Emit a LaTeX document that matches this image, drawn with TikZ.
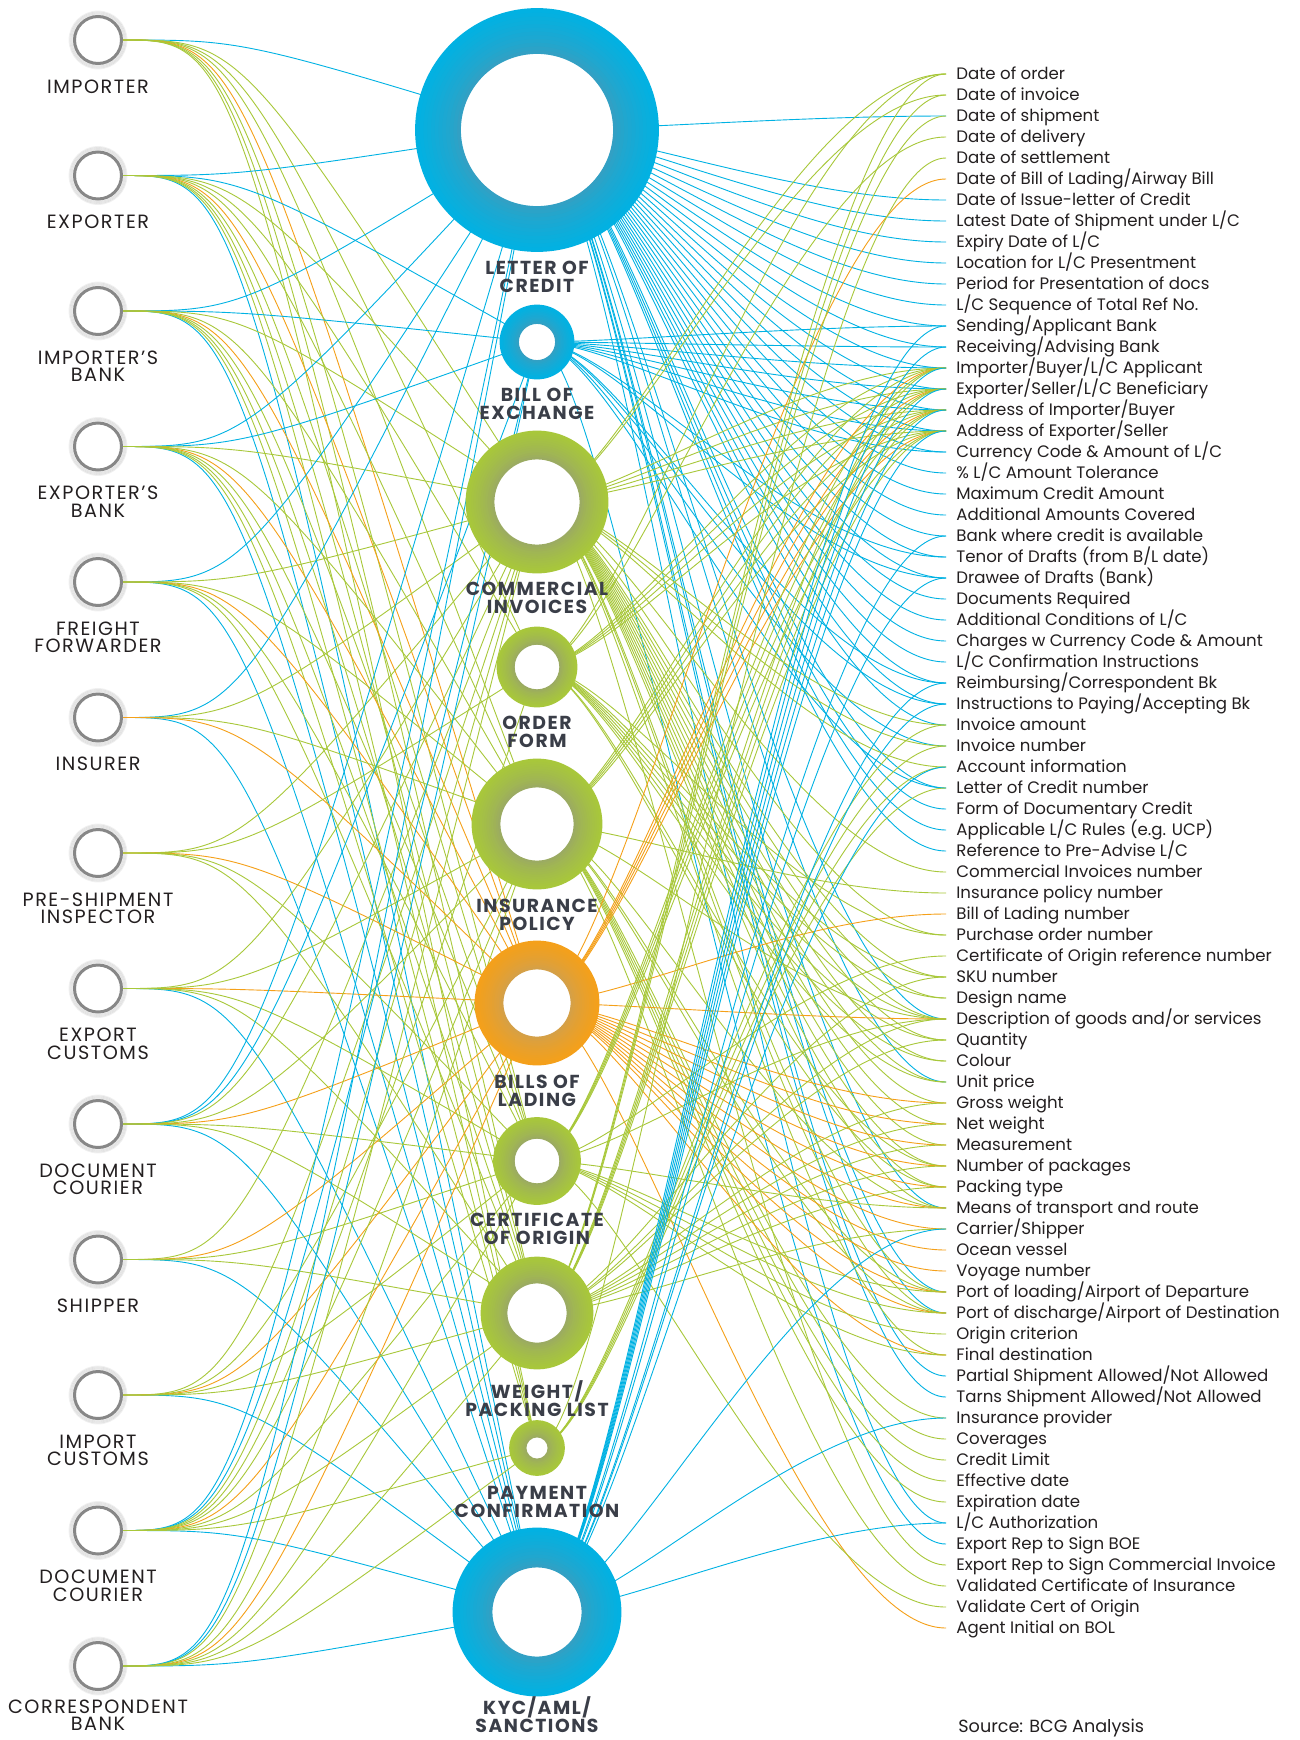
\documentclass[tikz,border=0pt]{standalone}
\usepackage{fontspec}
\setmainfont{Poppins}
\newfontfamily\capsfont[LetterSpace=8]{Poppins}
\usepackage{tikz}
\usetikzlibrary{positioning, calc}

\definecolor{docblue}{RGB}{0,178,227}
\definecolor{docbluedim}{RGB}{56,158,192}
\definecolor{docgreen}{RGB}{168,200,58}
\definecolor{docgreendim}{RGB}{154,168,102}
\definecolor{docorange}{RGB}{245,160,25}
\definecolor{docorangedim}{RGB}{210,160,76}
\definecolor{partygray}{RGB}{135,135,135}
\definecolor{inkdark}{RGB}{35,31,32}
\definecolor{inkslate}{RGB}{58,62,72}
\colorlet{c-lc}{docblue}
\colorlet{c-boe}{docblue}
\colorlet{c-kyc}{docblue}
\colorlet{c-ci}{docgreen}
\colorlet{c-ordf}{docgreen}
\colorlet{c-ip}{docgreen}
\colorlet{c-co}{docgreen}
\colorlet{c-wpl}{docgreen}
\colorlet{c-pc}{docgreen}
\colorlet{c-bol}{docorange}

% ring painted over a document node: node, outer r, inner r (px), bright, dim
\newcommand{\docring}[5]{%
  \fill[white] (#1.center) circle[radius=#3*0.5pt];
  \foreach \k in {0,...,11}{
    \pgfmathsetmacro{\rr}{0.5*(#3+(#2-#3)*(\k+0.5)/12)}
    \pgfmathsetmacro{\lw}{0.5*(#2-#3)/12+0.4}
    \pgfmathtruncatemacro{\mx}{100*((\k+0.5)/12)^0.7}
    \draw[#4!\mx!#5, line width=\lw pt] (#1.center) circle[radius=\rr pt];
  }
}

\begin{document}
\begin{tikzpicture}[
  x=0.5pt, y=-0.5pt,
  party/.style={
    circle, draw=partygray, line width=1.5pt, fill=white,
    inner sep=0pt, minimum size=23.5pt
  },
  docnode/.style={circle, inner sep=0pt, outer sep=0pt},
  partytext/.style={
    font=\capsfont\fontsize{9.6}{8.7}\selectfont, text=inkdark,
    align=center, inner sep=0pt, anchor=north
  },
  doctext/.style={
    font=\capsfont\fontsize{9.4}{9.1}\selectfont\bfseries, text=inkslate,
    align=center, inner sep=0pt, anchor=north
  },
  fieldtext/.style={
    font=\fontsize{8.3}{10}\selectfont, text=inkdark,
    inner sep=0pt, anchor=base west
  },
  conn/.style={line width=0.45pt}
]
\fill[white] (0,0) rectangle (1300,1740);
\useasboundingbox (0,0) rectangle (1300,1740);

% ----- Parties (left column) -----
\foreach \nm/\txt [count=\i from 0] in {
    imp/IMPORTER, exp/EXPORTER, impbk/IMPORTER’S\\BANK, expbk/EXPORTER’S\\BANK,
    fwd/FREIGHT\\FORWARDER, ins/INSURER, insp/PRE-SHIPMENT\\INSPECTOR,
    expcus/EXPORT\\CUSTOMS, courA/DOCUMENT\\COURIER, ship/SHIPPER,
    impcus/IMPORT\\CUSTOMS, courB/DOCUMENT\\COURIER, corr/CORRESPONDENT\\BANK}{
  \pgfmathsetmacro{\py}{40+135.5*\i}
  \pgfmathsetmacro{\ly}{\py+39.5-6*(\i==12)}
  \foreach \g in {1,...,4}
    \draw[black, opacity=0.06, line width=0.8pt] (98,\py) circle[radius=(12.3+\g*0.5)*1pt];
  \node[party] (\nm) at (98,\py) {};
  \node[partytext] (\nm-t) at (98,\ly) {\txt};
}

% ----- Fields (right column) -----
\foreach \ftxt [count=\f] in {
    Date of order, Date of invoice, Date of shipment, Date of delivery,
    Date of settlement, Date of Bill of Lading/Airway Bill,
    Date of Issue-letter of Credit, Latest Date of Shipment under L/C,
    Expiry Date of L/C, Location for L/C Presentment,
    Period for Presentation of docs, L/C Sequence of Total Ref No.,
    Sending/Applicant Bank, Receiving/Advising Bank,
    Importer/Buyer/L/C Applicant, Exporter/Seller/L/C Beneficiary,
    Address of Importer/Buyer, Address of Exporter/Seller,
    Currency Code \& Amount of L/C, \% L/C Amount Tolerance,
    Maximum Credit Amount, Additional Amounts Covered,
    Bank where credit is available, Tenor of Drafts (from B/L date),
    Drawee of Drafts (Bank), Documents Required,
    Additional Conditions of L/C, Charges w Currency Code \& Amount,
    L/C Confirmation Instructions, Reimbursing/Correspondent Bk,
    Instructions to Paying/Accepting Bk, Invoice amount, Invoice number,
    Account information, Letter of Credit number, Form of Documentary Credit,
    Applicable L/C Rules (e.g. UCP), Reference to Pre-Advise L/C,
    Commercial Invoices number, Insurance policy number, Bill of Lading number,
    Purchase order number, Certificate of Origin reference number, SKU number,
    Design name, Description of goods and/or services, Quantity, Colour,
    Unit price, Gross weight, Net weight, Measurement, Number of packages,
    Packing type, Means of transport and route, Carrier/Shipper, Ocean vessel,
    Voyage number, Port of loading/Airport of Departure,
    Port of discharge/Airport of Destination, Origin criterion,
    Final destination, Partial Shipment Allowed/Not Allowed,
    Tarns Shipment Allowed/Not Allowed, Insurance provider, Coverages,
    Credit Limit, Effective date, Expiration date, L/C Authorization,
    Export Rep to Sign BOE, Export Rep to Sign Commercial Invoice,
    Validated Certificate of Insurance, Validate Cert of Origin,
    Agent Initial on BOL}{
  \coordinate (e\f) at (946,53+21*\f);
  \node[fieldtext] (f\f) at (956,58+21*\f) {\ftxt};
}

% ----- Documents (centre column) -----
\node[docnode, minimum size=121.5pt] (lc)   at (537,130)  {};
\node[docnode, minimum size=37pt]    (boe)  at (537,342)  {};
\node[docnode, minimum size=71pt]    (ci)   at (537,502)  {};
\node[docnode, minimum size=40pt]    (ordf) at (537,667)  {};
\node[docnode, minimum size=65pt]    (ip)   at (537,824)  {};
\node[docnode, minimum size=62pt]    (bol)  at (537,1003) {};
\node[docnode, minimum size=43.5pt]  (co)   at (537,1161) {};
\node[docnode, minimum size=56pt]    (wpl)  at (537,1313) {};
\node[docnode, minimum size=27.5pt]  (pc)   at (537,1448) {};
\node[docnode, minimum size=84pt]    (kyc)  at (537,1612) {};

% Parties -> documents
\foreach \p/\ds in {
    imp/{lc,ci,ordf,ip,bol,co,wpl,pc},
    exp/{lc,boe,kyc,ci,ordf,ip,bol,co,wpl,pc},
    impbk/{lc,boe,kyc,ci,ip,bol,co,wpl,pc},
    expbk/{lc,boe,kyc,ci,ip,bol,co,wpl,pc},
    fwd/{lc,kyc,ci,ip,bol,co,wpl},
    ins/{lc,kyc,ci,ip,bol},
    insp/{ci,ordf,bol,co,wpl},
    expcus/{kyc,ci,ip,bol,co,wpl},
    courA/{lc,boe,kyc,ci,ip,bol,co,wpl},
    ship/{kyc,ci,bol,co,wpl},
    impcus/{kyc,ci,ip,bol,co,wpl},
    courB/{lc,boe,kyc,ci,ordf,ip,bol,co,wpl,pc},
    corr/{lc,boe,kyc,ci,ip,bol,co,wpl,pc}}
  \foreach \d in \ds
    \draw[conn, c-\d] (\p.east) .. controls +(120,0) .. (\d.center);

% Documents -> fields
\foreach \d/\fs in {
    lc/{3,7,8,9,10,11,12,13,14,15,16,17,18,19,20,21,22,23,24,25,26,27,28,29,30,31,32,35,36,37,38,46,49,55,59,60,63,64,70},
    boe/{13,14,15,16,17,18,19,24,25,30,31,33,35,71},
    ci/{1,2,15,16,17,18,32,33,34,39,42,44,45,46,47,48,49,50,51,52,53,54,55,59,60,62,72},
    ordf/{1,4,15,16,17,18,42,44,45,46,47,48,49,53,54},
    ip/{15,16,17,18,40,46,55,59,60,65,66,67,68,69,73},
    bol/{6,15,16,17,18,41,46,50,51,52,53,54,55,56,57,58,59,60,62,75},
    co/{15,16,17,18,43,46,55,59,60,61,62,74},
    wpl/{1,2,3,15,16,17,18,44,46,47,50,51,52,53,54,56},
    pc/{5,32,33,34,35},
    kyc/{13,14,15,16,17,18,23,25,30,31,34,56,65,70}}
  \foreach \f in \fs
    \draw[conn, c-\d] (\d.center) .. controls +(80,0) and ([xshift=-75pt]e\f) .. (e\f);

% ----- Rings -----
\docring{lc}{121.5}{76.5}{docblue}{docbluedim}
\docring{boe}{37}{18.5}{docblue}{docbluedim}
\docring{ci}{71}{43}{docgreen}{docgreendim}
\docring{ordf}{40}{22.7}{docgreen}{docgreendim}
\docring{ip}{65}{37}{docgreen}{docgreendim}
\docring{bol}{62}{34}{docorange}{docorangedim}
\docring{co}{43.5}{22.7}{docgreen}{docgreendim}
\docring{wpl}{56}{30}{docgreen}{docgreendim}
\docring{pc}{27.5}{11}{docgreen}{docgreendim}
\docring{kyc}{84}{45}{docblue}{docbluedim}

\node[doctext] (lc-t)   at (537,261)  {LETTER OF\\CREDIT};
\node[doctext] (boe-t)  at (537,388)  {BILL OF\\EXCHANGE};
\node[doctext] (ci-t)   at (537,582)  {COMMERCIAL\\INVOICES};
\node[doctext] (ordf-t) at (537,716)  {ORDER\\FORM};
\node[doctext] (ip-t)   at (537,899)  {INSURANCE\\POLICY};
\node[doctext] (bol-t)  at (537,1075) {BILLS OF\\LADING};
\node[doctext] (co-t)   at (537,1213) {CERTIFICATE\\OF ORIGIN};
\node[doctext] (wpl-t)  at (537,1380) {WEIGHT/\\PACKING LIST};
\node[doctext] (pc-t)   at (537,1486) {PAYMENT\\CONFIRMATION};
\node[doctext] (kyc-t)  at (537,1696) {KYC/AML/\\SANCTIONS};

\node[fieldtext, font=\fontsize{8.8}{10}\selectfont] (src) at (958,1732) {Source: BCG Analysis};

\end{tikzpicture}
\end{document}
